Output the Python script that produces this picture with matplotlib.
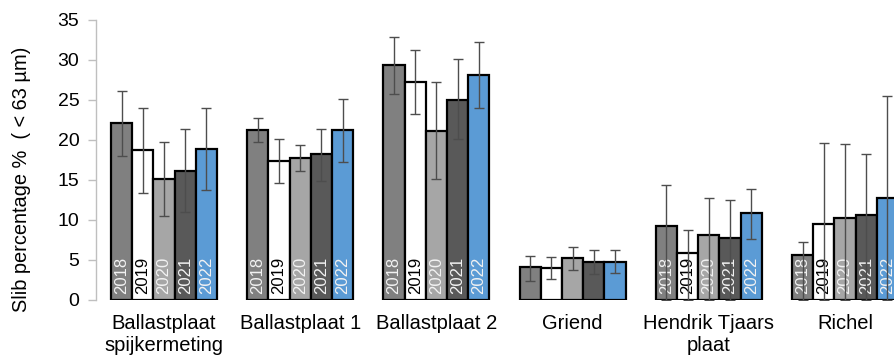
import matplotlib.pyplot as plt
import numpy as np

plt.rcParams['font.family'] = ['Liberation Sans', 'DejaVu Sans']

locations = ["Ballastplaat\nspijkermeting", "Ballastplaat 1", "Ballastplaat 2",
             "Griend", "Hendrik Tjaars\nplaat", "Richel"]
years = ["2018", "2019", "2020", "2021", "2022"]

# mean silt percentage per location, one list per year
slib_2018 = [22.1, 21.3, 29.4, 4.1, 9.2, 5.6]
slib_2019 = [18.7, 17.4, 27.3, 4.0, 5.9, 9.5]
slib_2020 = [15.1, 17.8, 21.1, 5.2, 8.1, 10.3]
slib_2021 = [16.1, 18.2, 25.0, 4.8, 7.8, 10.6]
slib_2022 = [18.9, 21.2, 28.1, 4.8, 10.9, 12.8]

# upper and lower end of the spread
upper_2018 = [26.1, 22.8, 32.9, 5.5, 14.4, 7.3]
upper_2019 = [24.0, 20.1, 31.2, 5.4, 8.7, 19.6]
upper_2020 = [19.7, 19.4, 27.2, 6.6, 12.7, 19.5]
upper_2021 = [21.4, 21.4, 30.1, 6.3, 12.5, 18.2]
upper_2022 = [24.0, 25.1, 32.2, 6.3, 13.9, 25.5]

lower_2018 = [18.0, 19.8, 25.8, 2.4, 0.0, 0.0]
lower_2019 = [13.4, 14.6, 23.3, 2.6, 0.0, 0.0]
lower_2020 = [10.5, 16.1, 15.1, 3.7, 0.0, 0.0]
lower_2021 = [11.0, 14.9, 20.1, 3.3, 0.0, 0.0]
lower_2022 = [13.7, 17.2, 24.0, 3.4, 7.6, 0.0]

# which locations get the year written inside the bars
show_years = [True, True, True, False, True, True]

values = [slib_2018, slib_2019, slib_2020, slib_2021, slib_2022]
uppers = [upper_2018, upper_2019, upper_2020, upper_2021, upper_2022]
lowers = [lower_2018, lower_2019, lower_2020, lower_2021, lower_2022]
colors = ["#808080", "#ffffff", "#a6a6a6", "#595959", "#5b9bd5"]
text_colors = ["#f2f2f2", "black", "#f2f2f2", "#f2f2f2", "#f2f2f2"]

fig = plt.figure(figsize=(8.94, 3.56), dpi=100)
ax = fig.add_axes([96 / 894, 56 / 356, 1 - 96 / 894, 280 / 356])

x = np.arange(len(locations))
w = 0.1557

for j, year in enumerate(years):
    pos = x + (j - 2) * w
    vals = np.array(values[j])
    err = [vals - np.array(lowers[j]), np.array(uppers[j]) - vals]
    ax.bar(pos, vals, width=w, color=colors[j], edgecolor="black",
           linewidth=1.6, zorder=2)
    ax.errorbar(pos, vals, yerr=err, fmt="none", ecolor="#4d4d4d",
                elinewidth=1.0, capsize=3.5, capthick=1.0, zorder=4)
    for i, p in enumerate(pos):
        if show_years[i]:
            ax.text(p, 0.7, year, rotation=90, ha="center", va="bottom",
                    color=text_colors[j], fontsize=12, zorder=3)

ax.set_ylim(0, 35)
ax.set_xlim(-0.5, 5.36)
ax.set_yticks(range(0, 36, 5))
ax.set_xticks(x)
ax.set_xticklabels(locations, fontsize=14.5, linespacing=1.2)
ax.tick_params(axis="x", length=0, pad=10)
ax.tick_params(axis="y", labelsize=14, length=6, color="#bfbfbf",
               width=1.0, pad=6)

for side in ["top", "right", "bottom"]:
    ax.spines[side].set_visible(False)
ax.spines["left"].set_color("#bfbfbf")
ax.spines["left"].set_linewidth(1.0)

fig.text(22 / 894, 1 - 179 / 356, "Slib percentage %  ( < 63 µm)",
         rotation=90, ha="center", va="center", fontsize=14.4)

fig.savefig("out.png", dpi=100)
